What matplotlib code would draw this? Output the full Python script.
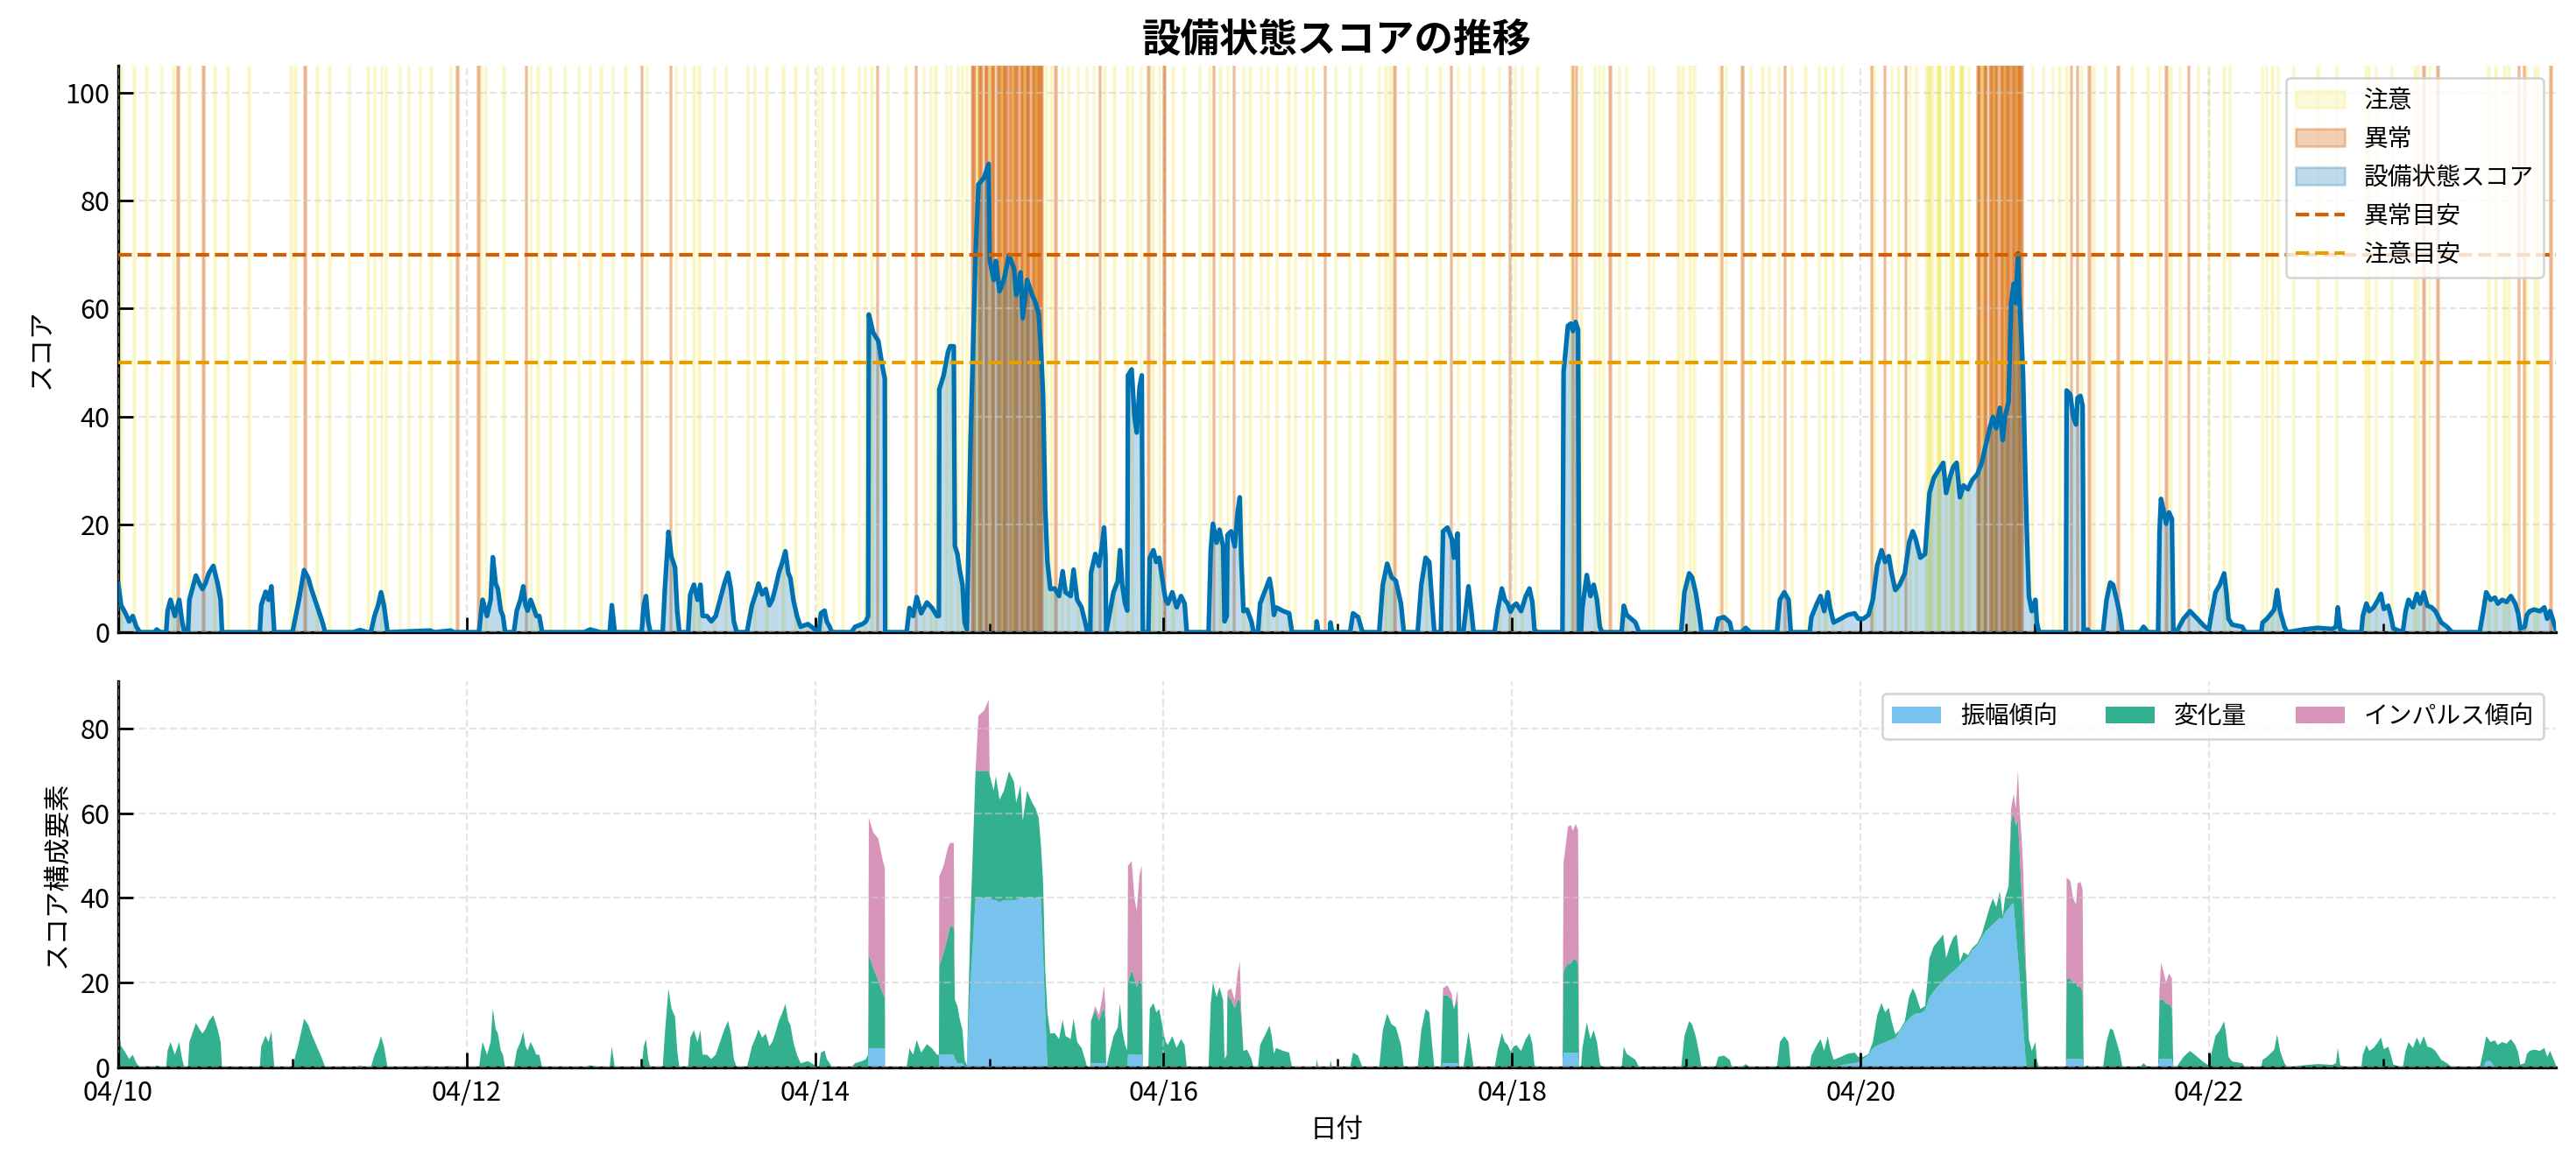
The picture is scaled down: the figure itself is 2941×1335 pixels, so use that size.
import numpy as np
import matplotlib
matplotlib.use("Agg")
import matplotlib.pyplot as plt
import matplotlib.dates as mdates
from matplotlib.patches import Patch
from matplotlib.lines import Line2D
from datetime import datetime

plt.rcParams['font.family'] = ['Noto Sans CJK JP', 'DejaVu Sans']

# ---- data: hours from 04/10 00:00 ----
chg_pts = [
(0,9),(0.4,5),(1.0,3.5),(1.5,2),(2.0,3),(2.5,1),(3.0,0),(5.0,0),(5.3,0.5),(5.8,0),
(6.6,0),(6.8,4),(7.2,6),(7.8,3),(8.4,6),(8.8,2),(9.1,0),(9.6,0),(9.8,6),(10.2,8),
(10.7,10.5),(11.2,9),(11.6,8),(12.0,9),(12.5,11),(13.1,12.3),(13.7,9),(14.1,6),(14.3,0),
(19.5,0),(19.7,5),(20.3,7.5),(20.7,6),(21.1,8.5),(21.5,0),
(24.0,0),(24.3,2),(24.9,6),(25.6,11.5),(26.2,10),(26.6,8),(27.1,6),(27.6,4),(28.1,2),(28.5,0),
(32.4,0),(33.3,0.4),(34.3,0),(34.8,0),(35.3,3),(35.8,5),(36.2,7.4),(36.6,5),(37.1,0),
(43.0,0.3),(43.5,0),(45.8,0.3),(46.3,0),
(49.7,0),(50.0,4),(50.2,6),(50.8,3),(51.3,6),(51.6,13.9),(52.0,9),(52.3,8),(52.7,4),(53.0,3),(53.3,0),
(54.5,0),(54.9,4),(55.4,6),(55.8,8.5),(56.1,5),(56.4,4),(56.8,6),(57.1,5),(57.6,3),(58.0,3),(58.4,0),
(64.2,0),(65.0,0.5),(66.4,0),(67.7,0),(68.0,5),(68.4,0),
(72.1,0),(72.4,5),(72.7,6.7),(73.0,2),(73.3,0),
(75.0,0),(75.3,8),(75.8,18.6),(76.2,14),(76.7,12),(77.0,4),(77.3,0),
(78.5,0),(78.8,7),(79.3,8.8),(79.8,6),(80.2,8.8),(80.5,3),(81.1,3),(81.7,2),(82.3,3),(82.9,6),
(83.5,9),(84.0,11),(84.4,8),(84.8,2),(85.2,0),
(86.6,0),(87.3,5),(87.8,7),(88.2,9),(88.7,7),(89.2,8),(89.7,5),(90.1,6),(90.5,8),(91.0,11),
(91.5,13),(91.9,15),(92.3,11),(92.6,10),(93.0,6),(93.5,3),(94.0,1),(95.0,1.5),(96.0,0.5),
(96.5,0),(96.8,3.5),(97.3,4),(97.6,2),(98.0,1),(98.3,0),(101.0,0),(101.5,1),(102.5,1.5),(103.0,2),(103.3,3),
(103.4,22),(104.0,19),(104.7,16),(105.3,13),(105.6,12),(105.65,0),
(108.6,0),(109.0,4.5),(109.5,3),(110.0,6.5),(110.6,3.5),(111.4,5.5),(112.1,4.5),(112.8,3),(113.05,3),
(113.1,21),(113.7,24),(114.3,28),(114.6,30.5),(115.1,30),(115.25,14),(115.6,13.5),(115.9,10.6),
(116.3,7.8),(116.6,1.8),(116.9,0.5),
(117.4,15),(118.1,30),(118.5,30),(119.3,30),(119.9,30),(120.05,29),(120.6,25.8),(120.9,29.3),
(121.4,24.2),(122.0,25.8),(122.7,30.4),(123.4,27.9),(123.7,23),(124.3,26.7),(124.6,18.2),
(125.2,25.3),(125.9,22.5),(126.4,21),(126.8,18.9),(127.1,12.6),(127.4,17),(127.7,10),(128.0,13),
(128.4,8),(129.0,8.1),(129.6,6.7),(130.1,11.3),(130.5,7.4),(131.2,6.7),(131.6,11.6),(132.1,6),
(132.7,4.6),(133.2,1.8),(133.5,0),
(133.9,0),(134.0,10),(134.6,12.5),(135.1,10),(135.5,12),(135.8,13),(136.0,10),(136.1,0),
(136.5,3),(137.1,7.4),(137.7,9.5),(138.0,15.2),(138.3,8.8),(138.7,5.3),(139.0,4),
(139.1,17),(139.6,20),(140.0,18),(140.3,16),(140.7,18),(141.0,17),(141.15,0),
(141.9,0),(142.1,13.8),(142.6,15.2),(143.0,13),(143.4,13.8),(143.8,10.2),(144.1,7.4),(144.3,6),
(144.6,5.3),(145.2,7.4),(145.8,4.6),(146.4,6.7),(146.9,5.3),(147.2,0),
(150.2,0),(150.5,15.2),(150.8,20.1),(151.3,16.6),(151.7,19),(152.2,15.9),(152.4,2),(152.7,3),
(152.8,17),(153.3,16),(153.8,14),(154.2,16),(154.5,16),(154.7,12),(155.0,3.9),(155.5,4.2),
(156.1,2),(156.4,0),
(157.0,0),(157.3,5.3),(157.9,7.4),(158.6,9.9),(158.9,7.4),(159.2,3.2),(159.5,4.6),(160.5,3.9),
(161.3,3.5),(161.7,0),
(165.0,0),(165.1,2),(165.3,0),(166.9,0),(167.0,1.8),(167.2,0),(169.7,0),(170.1,3.5),(170.8,2.8),(171.4,0),
(173.7,0),(174.2,8.8),(174.8,12.7),(175.4,10.2),(176.0,9.5),(176.7,5.3),(177.1,0),
(179.0,0),(179.5,8.8),(180.1,13.8),(180.6,13),(181.0,5.3),(181.3,0),
(182.2,0),(182.5,16),(183.1,16),(183.7,15),(184.0,12.8),(184.5,15),(184.7,0),
(185.3,0),(185.8,6),(186.0,8.5),(186.4,4),(186.7,0),
(189.6,0),(190.0,3.9),(190.6,8.1),(191.0,6),(191.4,5.3),(191.8,3.8),(192.2,4.9),(192.6,5.3),
(193.25,3.9),(193.9,6.7),(194.4,8.1),(194.8,5.6),(195.1,0.4),(195.5,0),
(198.95,0),(199.1,19),(199.3,20),(199.7,21),(200.1,21),(200.4,22),(200.75,22),(201.1,21),(201.25,0),
(201.5,0),(201.7,4.6),(202.3,10.6),(202.8,6.7),(203.25,8.8),(203.7,6),(204.1,1),(204.4,0),
(207.1,0),(207.4,4.9),(207.8,3.2),(208.4,2.5),(209.0,1.8),(209.5,0),
(215.3,0),(215.75,7.4),(216.4,10.9),(216.8,10.2),(217.3,7.4),(217.8,3.2),(218.1,0),
(220.0,0),(220.4,2.5),(221.2,2.8),(222.0,1.8),(222.3,0),(223.6,0),(224.2,0.8),(224.8,0),
(228.5,0),(228.9,6),(229.5,7.4),(230.1,6),(230.4,0),
(233.0,0),(233.25,2.8),(234.0,5.3),(234.5,6.7),(235.0,3.9),(235.5,7.4),(235.8,4.6),(236.3,1.8),
(237.3,2),(238.2,2.4),(239.2,2.5),(239.7,1.3),
(240.4,0.5),(241.1,0.2),(241.7,1.5),(242.3,7.1),(242.9,9.6),(243.4,7.1),(243.9,7.8),(244.3,4.3),
(244.8,0.9),(245.4,0.3),(246.1,0.5),(246.7,5.1),(247.2,6.4),(247.6,4.6),(248.25,1),(248.9,1),
(249.5,9.3),(250.1,10.6),(250.75,10.7),(251.4,10.9),(251.8,4.6),(252.3,6.6),(252.8,8),(253.25,8),
(253.7,0.8),(254.2,2.1),(254.8,0.5),(255.4,0.5),(256.1,0.5),(256.7,0.8),
(257.3,2.7),(257.8,4.8),(258.25,6.1),(258.7,3.3),(259.2,6.3),(259.6,0.6),(259.9,3.4),(260.4,5.2),
(260.75,19.6),(261.1,21.2),(261.4,25),(261.7,32.2),(261.9,29.8),(262.2,27),(262.4,25.6),(262.7,22),
(262.9,19.4),(263.2,6.7),(263.6,3.9),(264.1,6),(264.3,1.8),(264.6,0),
(268.3,0),(268.4,19),(268.9,19),(269.3,18),(269.7,18),(269.9,17),(270.3,17),(270.6,16),(270.75,0),
(271.3,0.5),(271.6,0),
(273.4,0),(273.9,6),(274.4,9.2),(274.8,8.8),(275.3,6),(275.75,3.2),(276.1,0),(278.5,0),(279.0,1),(279.6,0),
(281.0,0),(281.2,14),(281.4,14),(281.7,14),(282.1,13),(282.5,13),(282.9,12),(283.1,0),
(283.5,0),(284.5,2.5),(285.4,3.9),(286.4,2.5),(287.3,1.2),(288.0,0.5),
(288.3,3),(288.9,7.4),(289.5,8.8),(290.1,10.9),(290.4,7.4),(290.7,2.5),(291.2,1.4),(292.6,1),(293.0,0),
(295.2,0),(295.4,1.8),(296.0,2.5),(296.6,3.5),(297.0,4.2),(297.4,7.8),(297.8,3.9),(298.4,1),(298.8,0),
(301.0,0.5),(303.0,0.8),(305.0,0.6),(305.5,1),(305.75,4.6),(306.1,0.5),(307.0,0),
(309.0,0),(309.2,3),(309.7,5.3),(310.1,3.9),(310.7,4.6),(311.3,6),(311.7,7.1),(312.1,4.3),
(312.7,4.9),(313.1,2.8),(313.4,0.7),
(314.7,0),(315.1,3.9),(315.5,6),(316.1,4.6),(316.65,7.1),(317.1,5.3),(317.6,7.4),(318.1,4.9),
(318.7,4.6),(319.2,3.9),(320.0,1.8),(320.8,1),(321.5,0),
(325.3,0),(325.8,3.9),(326.2,5.9),(326.8,4.5),(327.4,6.4),(327.8,5.3),(328.4,6),(329.0,5.6),
(329.6,6.7),(330.2,5.3),(330.6,3.5),(330.9,0.7),
(331.5,1),(331.8,3.2),(332.2,3.9),(332.8,4.2),(333.6,3.9),(334.2,4.6),(334.6,2.5),(335.0,3.9),
(335.6,1.4),(335.8,0.5),
]

amp_pts = [
(103.4,4.5),(104.0,4.5),(104.7,4.5),(105.3,4.5),(105.6,4.5),
(113.1,3),(113.7,3),(114.3,3),(114.6,3),(115.1,3),(115.25,2),(115.6,1),(115.9,1),(116.3,1),
(117.4,20),(118.1,40),(118.5,40),(119.3,40),(119.9,40),(120.05,40),(120.6,39.5),(120.9,39.5),
(121.4,39),(122.0,39.5),(122.7,39.5),(123.4,39.5),(123.7,39.5),(124.3,40),(124.6,40),(125.2,40),
(125.9,40),(126.4,40),(126.8,40),(127.1,40),(127.4,27),(127.7,13),
(134.0,1),(134.6,1),(135.1,1),(135.5,1),(135.8,1),(136.0,1),
(139.1,3),(139.6,3),(140.0,3),(140.3,3),(140.7,3),(141.0,3),
(182.5,1),(183.1,1),(183.7,1),(184.0,1),(184.5,1),
(199.1,3.5),(199.3,3.5),(199.7,3.5),(200.1,3.5),(200.4,3.5),(200.75,3.5),(201.1,3.5),
(237.3,0.5),(238.2,0.8),(239.2,1),(239.7,1.2),
(240.4,2),(241.1,3),(241.7,4.5),(242.3,5.2),(242.9,5.6),(243.4,5.9),(243.9,6.3),(244.3,6.6),
(244.8,6.9),(245.4,8.5),(246.1,10.4),(246.7,11.5),(247.2,12.3),(247.6,12.7),(248.25,12.8),(248.9,13.5),
(249.5,16.5),(250.1,18),(250.75,19.3),(251.4,20.5),(251.8,21.2),(252.3,22),(252.8,22.7),(253.25,23.4),
(253.7,24.2),(254.2,25.1),(254.8,26),(255.4,27.7),(256.1,28.8),(256.7,30.6),
(257.3,32.2),(257.8,33),(258.25,33.8),(258.7,34.5),(259.2,35.3),(259.6,35),(259.9,36.5),(260.4,37.5),
(260.75,38.4),(261.1,38.8),(261.4,32),(261.7,26),(261.9,22),(262.2,14),(262.4,10),(262.7,3),
(268.4,2),(268.9,2),(269.3,2),(269.7,2),(269.9,2),(270.3,2),(270.6,2),
(281.2,2),(281.4,2),(281.7,2),(282.1,2),(282.5,2),(282.9,2),
(326.2,1.5),(326.8,1.5),
]

imp_pts = [
(103.4,32.4),(104.0,32),(104.7,33.5),(105.3,31.5),(105.6,30.5),
(113.1,21),(113.7,20.6),(114.3,20.9),(114.6,19.5),(115.1,20),
(118.5,13),(119.3,14.3),(119.9,16.8),
(134.6,1),(135.1,1.3),(135.5,2.9),(135.8,5.4),(136.0,3),
(139.1,27.6),(139.6,25.7),(140.0,18.9),(140.3,18),(140.7,24.5),(141.0,27.6),
(152.8,1),(153.3,2.7),(153.8,1.9),(154.2,6.2),(154.5,9),(154.7,1.8),
(182.5,1.7),(183.1,2.4),(183.7,1.3),(184.5,2.3),
(199.1,25.8),(199.3,27.5),(199.7,32.3),(200.1,32.7),(200.4,30.3),(200.75,32),(201.1,31.6),
(260.75,3),(261.1,4.6),(261.4,4),(261.7,12),(261.9,10),(262.2,13),(262.4,12),(262.7,5),
(268.4,23.8),(268.9,23.1),(269.3,19.9),(269.7,18.5),(269.9,24.4),(270.3,24.8),(270.6,24),
(281.2,2.7),(281.4,8.7),(281.7,6.9),(282.1,5.1),(282.5,7.2),(282.9,7),
]

# state bands (hours from start, 10-minute slots)
caution_hours = [
0.3,2.1,3.8,5.9,7.5,9.7,13.2,15.0,17.9,23.7,24.3,27.3,29.0,31.7,34.3,35.2,36.2,36.8,38.7,39.9,
41.5,43.0,45.7,49.9,50.5,53.0,56.8,57.7,59.4,61.4,63.3,64.9,66.4,68.0,69.8,72.7,76.7,77.9,79.2,
79.9,82.0,83.6,86.6,87.6,89.2,91.5,93.2,94.8,
96.3,96.9,98.4,99.7,101.9,102.8,103.7,105.9,108.4,110.9,111.8,112.5,114.0,114.6,115.6,116.2,116.8,
127.7,128.4,129.9,130.8,132.1,133.3,134.3,135.8,137.1,138.9,139.6,140.8,142.4,143.3,145.2,146.7,
148.9,150.2,151.7,152.7,154.9,155.8,157.3,158.3,159.5,161.1,162.0,163.6,164.5,167.6,169.5,171.1,
173.6,174.5,175.1,177.6,180.1,182.0,184.5,186.0,187.9,190.1,192.3,
193.25,195.4,200.1,201.4,203.25,203.9,204.5,206.7,207.6,210.75,211.4,214.8,215.4,216.4,217.0,
220.4,221.4,224.8,226.4,227.3,228.6,230.4,232.3,234.2,235.1,236.1,237.3,241.7,244.2,245.1,246.7,
247.6,248.9,249.8,250.75,251.7,252.6,253.9,254.8,263.6,265.1,266.4,267.3,268.25,270.4,272.0,
273.6,277.3,279.5,281.1,282.6,283.9,286.4,287.9,
290.0,290.8,295.2,295.8,296.6,297.4,299.6,302.9,305.5,309.5,309.9,310.9,313.1,316.3,316.7,318.3,
326.4,327.4,328.6,329.2,331.6,332.8,333.2,
]
caution_runs = [
(118.2,118.5),(119.9,120.2),(121.5,121.8),(123.0,123.3),(124.6,124.9),(126.2,126.5),
(249.2,249.7),(250.5,251.0),(252.3,252.8),(253.6,254.0),
(256.6,256.9),(258.1,258.4),(259.6,259.9),(261.2,261.5),
]
anomaly_hours = [
8.1,11.6,25.6,46.6,49.5,56.1,72.0,76.0,104.5,109.8,129.0,135.1,141.8,143.9,144.05,150.8,153.6,
166.1,175.7,183.5,191.6,200.3,200.75,205.4,220.75,223.6,229.5,241.4,243.25,246.1,268.9,269.8,
271.4,275.4,282.0,285.1,317.5,319.4,330.6,331.3,335.0,
]
anomaly_runs = [
(117.5,118.0),(118.5,119.0),(119.3,119.8),(120.2,120.7),(121.0,121.4),(121.8,122.4),
(122.7,123.0),(123.3,123.9),(124.2,124.6),(124.9,125.5),(125.8,126.2),(126.5,127.2),
(256.0,256.5),(256.9,257.4),(257.7,258.1),(258.4,258.9),(259.2,259.6),(259.9,260.5),
(260.8,261.2),(261.5,262.3),
]

comp_labels = ['振幅傾向', '変化量', 'インパルス傾向']
comp_colors = ['#56B4E9', '#009E73', '#CC79A7']

# ---- build arrays ----
t = np.array([p[0] for p in chg_pts], dtype=float)
chg = np.array([p[1] for p in chg_pts], dtype=float)
amp_d = dict(amp_pts)
imp_d = dict(imp_pts)
tset = set(t.tolist())
assert all(k in tset for k in amp_d) and all(k in tset for k in imp_d)
amp = np.array([amp_d.get(h, 0.0) for h in t])
imp = np.array([imp_d.get(h, 0.0) for h in t])
score = amp + chg + imp

base = mdates.date2num(datetime(2024, 4, 10))
x = base + t / 24.0
slot = 10.0 / 1440.0

fig = plt.figure(figsize=(14.705, 6.675), dpi=200)
ax1 = fig.add_axes([0.0459, 0.4592, 0.9463, 0.4846])
ax2 = fig.add_axes([0.0459, 0.0869, 0.9463, 0.3303], sharex=ax1)

CAU_C, CAU_A = '#F0E442', 0.2
ANO_C, ANO_A = '#D55E00', 0.3

def span(ax, h, c, a):
    s = base + h / 24.0
    ax.axvspan(s, s + slot, color=c, alpha=a, lw=1.0, zorder=0)

for h in caution_hours:
    span(ax1, h, CAU_C, CAU_A)
for a0, a1 in caution_runs:
    for h in np.arange(a0, a1, 1 / 6):
        span(ax1, h, CAU_C, CAU_A)
for h in anomaly_hours:
    span(ax1, h, ANO_C, ANO_A)
for a0, a1 in anomaly_runs:
    for h in np.arange(a0, a1, 1 / 6):
        span(ax1, h, ANO_C, ANO_A)

ax1.fill_between(x, score, 0, color='#0072B2', alpha=0.25, lw=1.0, zorder=2)
ax1.plot(x, score, color='#0072B2', lw=1.9, zorder=3)
ax1.axhline(70, color='#D55E00', ls='--', lw=1.5, zorder=4)
ax1.axhline(50, color='#E69F00', ls='--', lw=1.5, zorder=4)
ax1.set_ylim(0, 105)
ax1.set_ylabel('スコア', fontsize=11)
ax1.set_title('設備状態スコアの推移', fontsize=16, fontweight='bold', pad=6)

handles = [
    Patch(facecolor=CAU_C, edgecolor=CAU_C, alpha=CAU_A, label='注意'),
    Patch(facecolor=ANO_C, edgecolor=ANO_C, alpha=ANO_A, label='異常'),
    Patch(facecolor='#0072B2', edgecolor='#0072B2', alpha=0.25, label='設備状態スコア'),
    Line2D([0], [0], color='#D55E00', ls='--', lw=1.5, label='異常目安'),
    Line2D([0], [0], color='#E69F00', ls='--', lw=1.5, label='注意目安'),
]
ax1.legend(handles=handles, loc='upper right', fontsize=10)

ax2.stackplot(x, amp, chg, imp, colors=comp_colors, alpha=0.8, labels=comp_labels, lw=0)
ax2.set_ylim(0, score.max() * 1.05)
ax2.set_ylabel('スコア構成要素', fontsize=11)
ax2.set_xlabel('日付', fontsize=11)
ax2.legend(loc='upper right', ncol=3, fontsize=10)

ax1.set_xlim(x[0], x[-1])
ax2.xaxis.set_major_locator(mdates.DayLocator(bymonthday=range(10, 31, 2)))
ax2.xaxis.set_minor_locator(mdates.DayLocator())
ax2.xaxis.set_major_formatter(mdates.DateFormatter('%m/%d'))

for ax in (ax1, ax2):
    ax.spines['top'].set_visible(False)
    ax.spines['right'].set_visible(False)
    for s in ('left', 'bottom'):
        ax.spines[s].set_linewidth(1.2)
    ax.tick_params(which='major', direction='in', length=6, width=1.0, labelsize=11)
    ax.tick_params(which='minor', direction='in', length=3.5, width=0.9)
    ax.grid(True, which='major', ls='--', color='#cccccc', alpha=0.5, lw=0.8)
    ax.set_axisbelow(False)
ax1.tick_params(labelbottom=False)
ax1.set_yticks([0, 20, 40, 60, 80, 100])
ax2.set_yticks([0, 20, 40, 60, 80])
ax2.tick_params(axis='x', pad=5)

fig.savefig('out.png', dpi=200)
